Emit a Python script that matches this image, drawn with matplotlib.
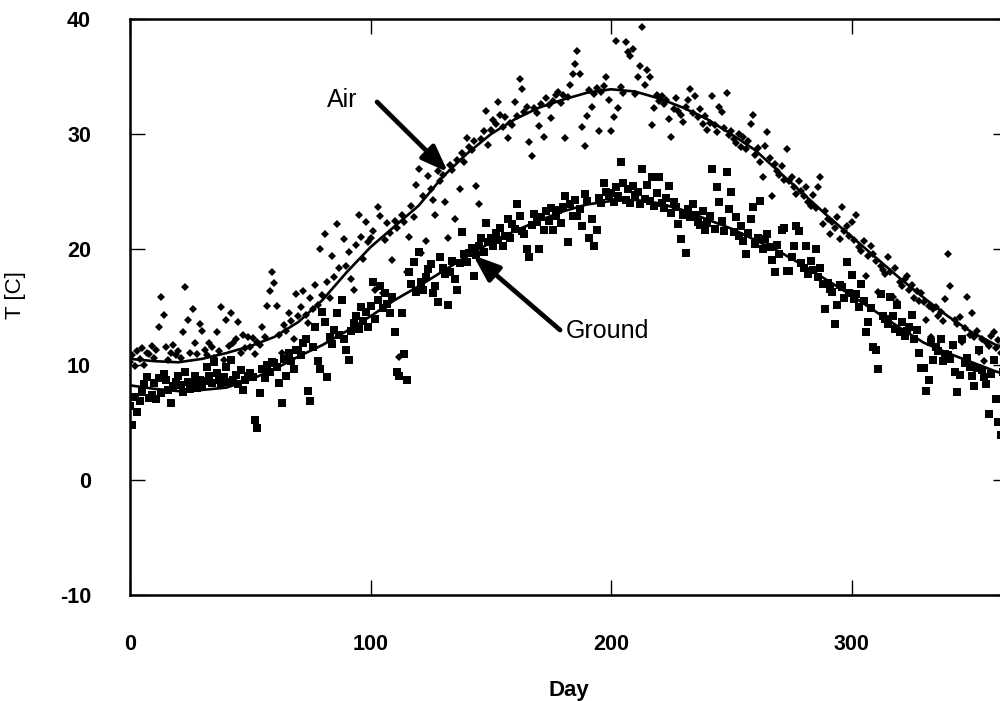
import numpy as np
import matplotlib
matplotlib.use("Agg")
import matplotlib.pyplot as plt

plt.rcParams['font.family'] = ['Liberation Sans', 'DejaVu Sans']
plt.rcParams['axes.unicode_minus'] = False

# daily air temperature [C], day 0 .. 364
air_temp = [
    10.2, 10.8, 9.9, 11.2, 10.5, 11.4, 10.0, 11.0, 10.9, 11.6,
    10.6, 11.3, 13.3, 15.9, 14.3, 11.5, 10.4, 11.0, 11.7, 10.8,
    11.2, 10.6, 12.8, 16.7, 13.9, 11.0, 14.8, 11.9, 10.9, 13.5,
    12.9, 11.3, 10.8, 11.9, 11.5, 10.6, 12.8, 11.2, 15.0, 10.4,
    13.9, 11.6, 14.5, 11.9, 12.2, 13.7, 11.0, 12.6, 11.4, 12.4,
    11.5, 12.3, 10.9, 12.0, 11.7, 13.3, 12.4, 15.1, 16.4, 18.0,
    17.1, 15.1, 12.6, 11.0, 13.4, 12.9, 14.5, 13.8, 12.2, 16.1,
    14.2, 15.0, 16.4, 14.3, 13.6, 15.8, 14.8, 16.9, 15.2, 20.0,
    16.0, 21.3, 17.2, 15.8, 19.4, 17.6, 22.2, 18.4, 15.6, 20.9,
    18.6, 19.8, 17.4, 16.5, 20.4, 23.0, 21.1, 19.2, 22.4, 20.6,
    21.0, 21.6, 16.5, 23.7, 22.9, 16.2, 20.8, 22.3, 21.4, 19.1,
    22.5, 21.9, 10.7, 23.0, 22.4, 18.0, 21.1, 23.8, 22.8, 25.6,
    27.0, 19.7, 24.6, 20.7, 26.4, 25.2, 24.3, 23.0, 26.8, 25.9,
    26.5, 24.1, 21.0, 27.3, 26.9, 22.6, 27.8, 25.2, 28.4, 27.6,
    29.7, 28.9, 28.6, 29.4, 25.5, 23.9, 29.6, 30.3, 32.0, 29.1,
    30.4, 31.2, 30.9, 32.8, 31.7, 30.6, 31.5, 29.7, 31.0, 30.8,
    32.8, 31.6, 34.8, 33.9, 31.9, 32.4, 29.3, 28.1, 32.3, 31.8,
    30.7, 32.6, 29.8, 33.1, 32.5, 31.4, 32.9, 33.4, 33.7, 32.7,
    33.4, 29.7, 33.2, 34.3, 35.2, 36.1, 37.2, 35.2, 30.6, 29.0,
    31.6, 33.8, 32.4, 33.5, 34.0, 30.3, 33.7, 34.2, 35.0, 33.0,
    30.3, 31.5, 38.1, 32.3, 34.1, 33.6, 38.0, 37.1, 36.8, 37.4,
    33.5, 35.0, 35.9, 39.3, 34.3, 35.6, 35.0, 30.8, 32.3, 33.4,
    32.9, 33.3, 32.6, 33.0, 31.3, 29.8, 32.2, 33.1, 32.0, 31.7,
    31.1, 32.4, 33.0, 33.9, 31.8, 33.3, 31.5, 32.2, 30.9, 31.6,
    30.4, 31.0, 33.3, 30.8, 30.2, 32.4, 31.9, 30.5, 33.6, 29.9,
    30.3, 29.6, 29.2, 30.0, 28.9, 29.8, 28.7, 29.4, 30.9, 31.7,
    28.2, 28.8, 27.6, 26.3, 29.0, 30.2, 27.9, 24.6, 27.4, 26.8,
    26.5, 27.2, 26.0, 28.7, 25.9, 26.3, 25.4, 24.8, 25.9, 25.1,
    24.6, 25.4, 24.1, 23.8, 24.7, 23.6, 25.4, 26.3, 22.2, 23.3,
    22.6, 21.3, 22.4, 21.9, 22.8, 20.9, 23.7, 21.6, 22.0, 21.2,
    22.4, 20.8, 23.0, 20.2, 19.9, 20.7, 17.7, 19.4, 20.3, 19.6,
    19.0, 16.3, 18.6, 18.2, 17.9, 19.3, 18.0, 15.9, 18.4, 15.4,
    17.2, 16.8, 17.4, 17.7, 16.5, 16.9, 15.8, 16.4, 15.5, 16.2,
    15.4, 13.9, 15.1, 12.4, 14.8, 15.0, 14.2, 14.6, 13.8, 15.7,
    19.6, 16.8, 11.6, 13.9, 13.5, 14.1, 12.0, 13.2, 15.9, 12.6,
    14.5, 12.4, 12.9, 11.1, 12.2, 10.3, 12.0, 11.6, 12.5, 12.8,
    11.4, 12.1, 11.0, 11.8, 11.3,
]

# daily ground temperature [C], day 0 .. 364
ground_temp = [
    6.4, 4.8, 7.2, 5.9, 6.8, 7.6, 8.3, 8.9, 7.1, 7.4,
    8.4, 7.0, 8.8, 7.5, 9.2, 8.7, 7.8, 6.7, 8.1, 8.5,
    9.0, 8.2, 7.6, 9.4, 8.5, 7.9, 8.3, 9.0, 8.0, 8.7,
    8.1, 8.6, 9.8, 9.0, 8.4, 10.2, 9.3, 8.7, 8.2, 8.9,
    9.8, 8.5, 10.4, 8.7, 9.1, 8.3, 9.5, 7.8, 8.7, 9.0,
    9.3, 8.9, 5.2, 4.5, 7.5, 9.6, 8.8, 10.0, 9.4, 10.2,
    10.1, 9.8, 8.4, 6.7, 10.5, 9.0, 11.0, 10.3, 9.6, 11.3,
    11.3, 10.8, 11.9, 12.2, 7.7, 6.8, 11.5, 13.3, 10.3, 9.6,
    14.6, 13.7, 8.9, 12.4, 11.8, 13.0, 14.5, 12.6, 15.6, 12.2,
    11.3, 10.4, 12.9, 13.6, 14.2, 13.1, 15.0, 13.8, 14.6, 13.3,
    15.1, 17.2, 14.0, 15.6, 16.8, 14.9, 16.2, 15.3, 14.5, 15.9,
    12.8, 9.4, 9.0, 14.5, 10.9, 8.7, 18.0, 17.0, 18.9, 16.3,
    19.8, 17.2, 16.5, 17.6, 18.3, 18.7, 16.2, 16.8, 15.4, 19.3,
    18.4, 17.9, 15.2, 18.0, 19.0, 17.4, 16.5, 18.8, 21.5, 19.6,
    18.9, 19.7, 20.1, 17.7, 19.5, 20.3, 21.0, 19.8, 22.3, 20.6,
    21.0, 20.3, 21.4, 20.8, 21.9, 20.3, 21.2, 22.6, 21.0, 22.2,
    21.8, 23.9, 22.9, 21.6, 21.3, 20.0, 19.3, 22.1, 23.1, 22.4,
    20.0, 22.8, 21.7, 23.3, 22.5, 23.6, 21.7, 22.9, 23.4, 22.3,
    23.7, 24.6, 20.6, 23.9, 22.9, 24.3, 22.9, 23.5, 22.0, 24.8,
    24.2, 21.0, 22.6, 20.3, 21.7, 24.5, 24.0, 25.8, 25.0, 24.6,
    24.9, 24.1, 25.4, 24.6, 27.6, 25.8, 24.3, 25.2, 24.0, 25.5,
    24.7, 25.0, 23.9, 27.0, 24.4, 25.6, 24.2, 26.3, 23.8, 24.9,
    26.3, 24.0, 23.6, 24.5, 25.5, 23.2, 24.1, 23.7, 22.2, 20.9,
    23.0, 19.7, 23.5, 22.8, 23.9, 23.0, 22.4, 22.1, 23.3, 21.7,
    22.3, 22.9, 27.0, 21.8, 25.4, 24.1, 22.5, 21.6, 26.7, 23.5,
    25.0, 21.5, 22.8, 21.2, 22.0, 20.7, 19.6, 21.4, 22.6, 23.7,
    20.5, 21.0, 24.2, 20.0, 20.9, 21.3, 20.2, 19.1, 18.0, 20.4,
    19.6, 21.7, 21.9, 18.1, 18.1, 19.3, 20.3, 22.0, 21.6, 18.8,
    18.4, 20.3, 17.9, 19.0, 18.2, 20.0, 17.6, 18.4, 17.0, 14.8,
    17.1, 16.6, 16.3, 13.5, 15.2, 16.9, 16.7, 15.8, 18.9, 16.2,
    17.8, 15.7, 16.1, 15.0, 17.0, 15.5, 12.8, 13.7, 14.9, 11.5,
    11.3, 9.6, 16.1, 14.2, 14.0, 13.5, 15.9, 14.2, 13.1, 15.2,
    12.8, 13.7, 12.5, 12.9, 13.3, 14.3, 12.2, 13.0, 11.0, 9.7,
    9.7, 7.7, 8.7, 12.0, 10.4, 11.5, 11.2, 12.2, 10.3, 10.9,
    10.8, 10.5, 11.7, 9.4, 7.6, 9.1, 12.2, 10.1, 10.6, 9.8,
    9.0, 8.1, 9.7, 11.3, 9.5, 8.9, 8.3, 5.7, 9.2, 10.4,
    7.0, 5.0, 3.9, 9.4, 8.6,
]

# fitted seasonal curves
fit_days = [0, 10, 20, 30, 40, 50, 60, 70, 80, 90, 100, 110, 120, 130, 140,
            150, 160, 170, 180, 190, 200, 210, 220, 230, 240, 250, 260, 270,
            280, 290, 300, 310, 320, 330, 340, 350, 360, 365]
air_fit = [10.5, 10.3, 10.2, 10.5, 11.0, 11.6, 12.4, 13.7, 15.6, 18.0, 20.2,
           22.0, 23.8, 26.3, 28.3, 30.0, 31.3, 32.3, 33.0, 33.6, 33.9, 33.7,
           33.1, 32.3, 31.3, 30.0, 28.6, 26.7, 24.8, 22.9, 21.1, 19.3, 17.5,
           15.8, 14.2, 12.8, 11.7, 11.4]
ground_fit = [8.2, 7.9, 7.7, 7.8, 8.0, 8.7, 9.6, 10.7, 11.7, 12.9, 14.2, 15.6,
              16.8, 18.1, 19.4, 20.6, 21.6, 22.5, 23.3, 23.9, 24.2, 24.3, 24.0,
              23.4, 22.6, 21.8, 20.8, 19.8, 18.6, 17.3, 16.0, 14.6, 13.2, 11.9,
              11.0, 10.2, 9.4, 9.1]

fig = plt.figure(figsize=(10, 7.01), dpi=100)
ax = fig.add_axes([0.13, 0.1512, 0.878, 0.8217])

ax.plot(np.arange(len(air_temp)), air_temp, linestyle='none', marker='D',
        markersize=3.9, color='black', markeredgewidth=0)
ax.plot(np.arange(len(ground_temp)), ground_temp, linestyle='none', marker='s',
        markersize=5.3, color='black', markeredgewidth=0)
ax.plot(fit_days, air_fit, color='black', linewidth=1.9)
ax.plot(fit_days, ground_fit, color='black', linewidth=1.9)

ax.set_xlim(0, 365)
ax.set_ylim(-10, 40)
ax.set_xticks([0, 100, 200, 300])
ax.set_yticks([-10, 0, 10, 20, 30, 40])
ax.tick_params(direction='in', length=11, width=1.0, top=True, right=True,
               labelsize=15.5)
ax.tick_params(axis='x', pad=28)
ax.tick_params(axis='y', pad=28)
for lab in ax.get_xticklabels() + ax.get_yticklabels():
    lab.set_fontweight('bold')
for sp in ax.spines.values():
    sp.set_linewidth(1.8)

ax.set_xlabel('Day', fontsize=16, fontweight='bold', labelpad=18)
ax.set_ylabel('T [C]', fontsize=16)
ax.yaxis.set_label_coords(-0.118, 0.52)

ax.annotate('', xy=(132.2, 26.7), xytext=(102.7, 32.8),
            arrowprops=dict(arrowstyle='-|>,head_length=1.6,head_width=0.6',
                            color='black', lw=3.4, shrinkA=0, shrinkB=0))
ax.text(94.5, 33.0, 'Air', fontsize=18, ha='right', va='center')

ax.annotate('', xy=(142.6, 19.5), xytext=(178.8, 13.0),
            arrowprops=dict(arrowstyle='-|>,head_length=1.6,head_width=0.6',
                            color='black', lw=3.4, shrinkA=0, shrinkB=0))
ax.text(181.0, 12.95, 'Ground', fontsize=18, ha='left', va='center')

fig.savefig('out.png', dpi=100)
